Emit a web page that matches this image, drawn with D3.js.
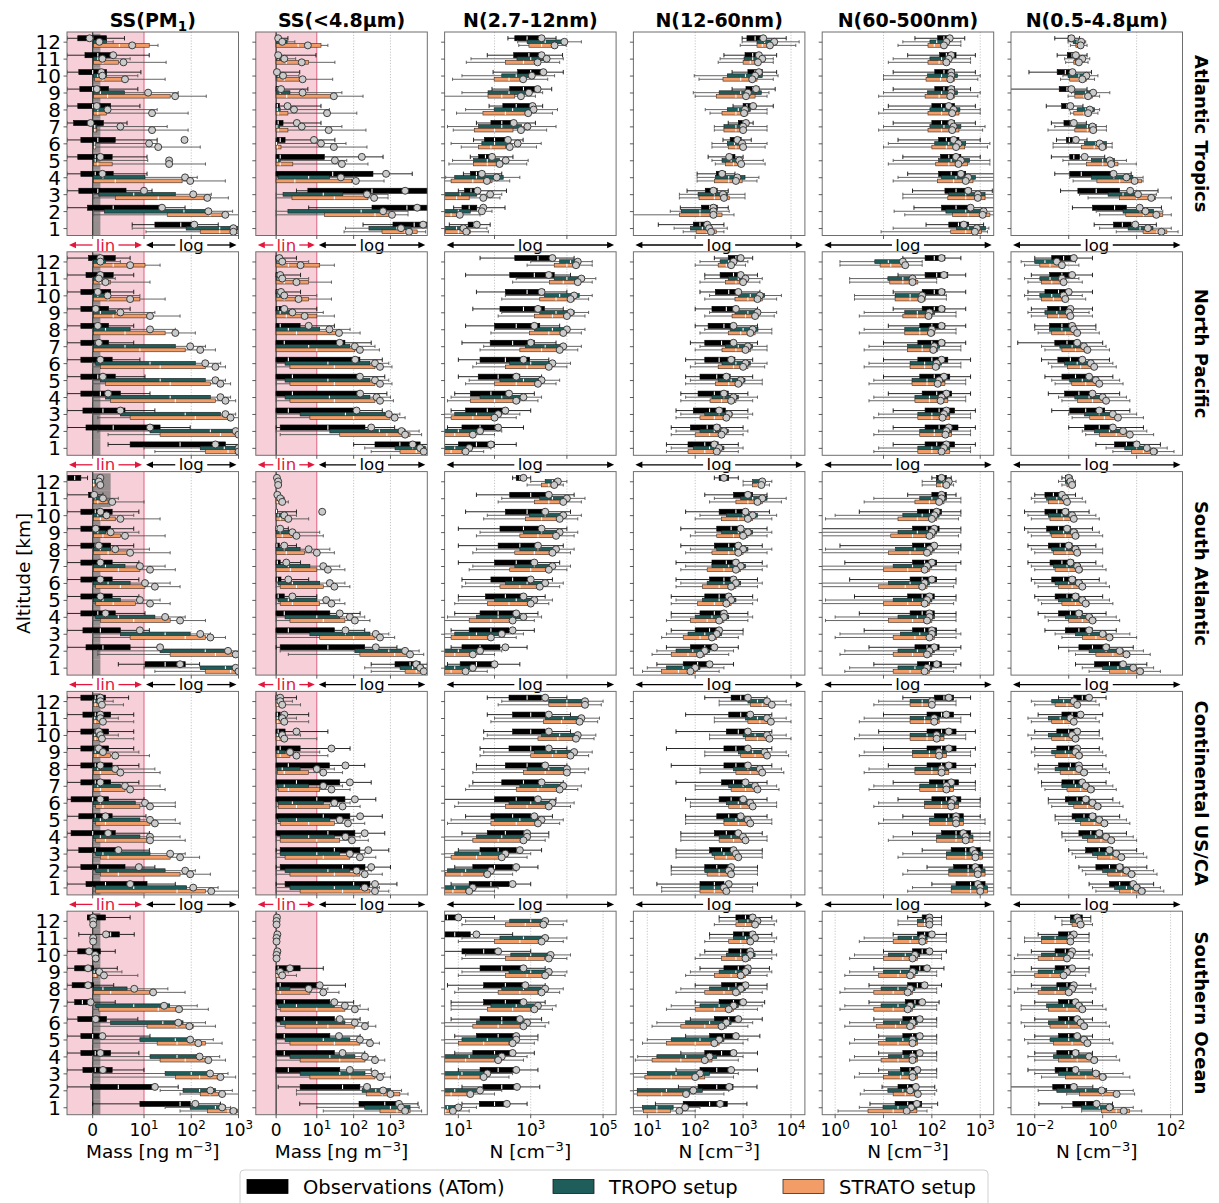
<!DOCTYPE html>
<html>
<head>
<meta charset="utf-8">
<script src="https://cdn.jsdelivr.net/npm/d3@7"></script>
<style>
  body { margin: 0; background: #fff; }
  svg { display: block; font-family: 'DejaVu Sans', sans-serif; }
</style>
</head>
<body>
<div id="chart"></div>
<script>
(function(d3) {
  'use strict';

  var regions = ['Atlantic Tropics', 'North Pacific', 'South Atlantic', 'Continental US/CA', 'Southern Ocean'];
  var altitudes = [1, 2, 3, 4, 5, 6, 7, 8, 9, 10, 11, 12];
  var seriesNames = ['Observations (ATom)', 'TROPO setup', 'STRATO setup'];

  // each altitude row: [low whisker, q1, median, q3, high whisker, mean], altitude 1..12
  // SS columns in ng m-3, N columns as log10(N / cm-3)

  // ---- Atlantic Tropics
  var atPm1Obs = [[7.7,17,60,122,373,116],[-5,-1,4,24,74,24],[-5,-2.7,1,6.5,14.8,10],[-5,-2.3,0.5,4,11.6,1.9],[-5,-2.9,0.5,3.8,11.6,1.5],[-5,-2.3,1,4.4,19,72],[-5,-3.7,-0.5,2.1,6.7,-0.4],[-5,-2.9,0,3.5,9.2,0.8],[-5,-2.5,0,3.1,8.8,0.8],[-5,-2.7,0,2.7,9.4,1.7],[-5,-1.5,1,4,12.9,4],[-5,-2.9,0,2.7,6.2,-0.6]];
  var atPm1Tropo = [[7.7,78,400,1000,1200,780],[0.2,2.3,70,230,750,230],[0.2,1.2,8,46,266,110],[0.2,0.2,2,10.5,134,74],[0.2,0.2,0.5,0.8,12,34],[0.2,0.2,0.4,0.6,19,12.8],[0.2,0.2,0.4,0.8,31,5.4],[0.2,0.2,1,3.1,19,2.9],[0.2,0.2,1.5,6.2,53,12.2],[0.2,0.2,1,2.7,8.8,1.9],[0.2,0.2,1,2.1,7.3,1.9],[0.2,0.2,1,2.7,4,1.3]];
  var atPm1Strato = [[11,155,400,1000,1200,780],[0.2,31,250,526,1200,526],[0.2,4.4,20,219,610,219],[0.2,0.2,4.4,64,526,95],[0.2,0.2,1,3.8,200,34],[0.2,0.2,0.4,0.6,155,20],[0.2,0.2,0.4,0.8,86,14.8],[0.2,0.2,1,2.7,86,14.8],[0.2,0.2,2.9,35.8,208,45.6],[0.2,0.4,2,6.2,28,6.3],[0.2,0.2,2,5,29.4,6],[0.2,0.2,5.2,12.9,19.8,7.7]];
  var atSs48Obs = [[180,1170,4400,12000,12000,7700],[8,315,2800,12000,12000,5300],[5,7.8,315,12000,12000,2500],[0,0,27,335,3900,760],[0,0,1,16,630,167],[0,0.2,1,2.2,31,9.3],[0,0,0.5,1.7,13,5.1],[0,0,0.3,0.8,13,2.8],[0,0,0.3,0.8,7.8,1.2],[0,0,0.1,0.3,5.8,0.2],[0,0,0.1,0.3,9.8,0.5],[0,0,0.2,0.5,2.9,0.5]];
  var atSs48Tropo = [[60,260,1500,3600,11000,1930],[0,2.9,160,590,3000,630],[0,1.7,15,51,860,230],[0,0.5,8,22,100,45],[0,0,0.3,1,65,31],[0,0,0.1,0.3,62,13],[0,0,0.2,0.8,48,6.3],[0,0,0.3,1,22,4.4],[0,0,1,3.4,48,6.5],[0,0,0.5,1.7,5.6,1.7],[0,0,0.5,1.7,4.8,2],[0,0,1,2.7,4.6,1.5]];
  var atSs48Strato = [[55,590,2500,5300,9000,3200],[0,16,380,1170,3000,1100],[0,3.9,30,245,860,360],[0,0,4.6,89,670,115],[0,0,1,4.1,245,48],[0,0,0.3,1.2,230,29],[0,0,0.5,2.9,216,21],[0,0,0.5,2.9,122,19],[0,0,2.6,31,180,29],[0,0.2,2,6,27,6.5],[0,0,2.5,8,31,6.3],[0,0,5.4,13,20,7.8]];
  var atN1Obs = [[0.75,1.27,1.42,1.56,1.88,1.51],[0.87,1.1,1.3,1.51,2.29,1.69],[1,1.17,1.35,1.56,2.33,1.53],[1.14,1.33,1.5,1.73,2.2,1.65],[1.33,1.56,1.75,2,2.51,1.93],[1.42,1.72,2,2.34,2.79,2.37],[1.5,1.9,2.2,2.56,3.13,2.53],[1.85,2.23,2.6,3.1,3.33,3.05],[1.93,2.42,2.8,3.16,3.58,3.19],[1.96,2.64,3,3.38,3.9,3.35],[1.8,2.53,2.95,3.3,3.88,3.3],[2.37,2.56,2.9,3.3,3.7,3.3]];
  var atN1Tropo = [[0.5,0.65,0.95,1.25,1.79,1.14],[0.5,0.6,1,1.33,1.93,1.65],[0.5,0.6,1.05,1.51,2.2,1.88],[0.65,0.9,1.5,2.24,2.7,2.06],[0.84,1.42,1.8,2.14,2.93,2.31],[0.8,1.65,2,2.45,3.29,2.64],[0.7,1.56,2.2,2.75,3.7,2.91],[1.2,1.99,2.5,3.02,3.74,3.08],[1.1,1.82,2.4,2.92,3.33,2.95],[1.1,2.2,2.6,3.05,3.66,3.03],[1.35,2.62,3,3.52,3.9,3.44],[2.64,2.9,3.4,3.93,4.4,3.93]];
  var atN1Strato = [[0.5,0.65,1,1.33,1.83,1.22],[0.5,0.6,0.8,1,1.6,1.04],[0.5,0.6,0.95,1.3,2.15,1.69],[0.5,0.8,1.4,1.93,2.42,1.79],[0.74,1.42,1.8,2.14,2.89,2.14],[1.08,1.56,1.9,2.3,3.16,2.42],[0.86,1.44,2,2.51,3.44,2.73],[0.95,1.68,2.3,2.9,3.6,2.93],[0.5,1.82,2.2,2.56,3.13,2.73],[0.84,1.99,2.4,2.84,3.47,2.79],[1.22,2.3,2.8,3.2,3.8,3.19],[2.67,2.95,3.3,3.74,3.98,3.66]];
  var atN2Obs = [[1.23,1.96,2.1,2.25,2.6,2.25],[1.69,2.13,2.3,2.46,2.69,2.38],[1.83,2.21,2.33,2.46,2.69,2.38],[2.04,2.44,2.52,2.63,2.83,2.56],[2.27,2.67,2.75,2.83,3,2.71],[2.58,2.73,2.85,2.96,3.17,2.88],[2.69,2.9,3,3.1,3.21,3.06],[2.79,3,3.08,3.17,3.63,3.21],[2.77,3.06,3.2,3.33,3.67,3.27],[2.77,3.1,3.25,3.4,3.7,3.33],[2.6,3.04,3.2,3.35,3.7,3.33],[2.98,3.08,3.25,3.42,3.9,3.42]];
  var atN2Tropo = [[1.56,1.9,2.15,2.35,2.67,2.29],[1.48,1.71,2.1,2.44,2.71,2.38],[1.67,2.06,2.4,2.67,3.04,2.58],[2.04,2.42,2.7,3.04,3.33,2.88],[2.35,2.56,2.75,2.94,3.42,2.92],[2.35,2.67,2.82,3,3.5,2.98],[2.4,2.6,2.85,3.04,3.5,3],[2.21,2.67,2.9,3.15,3.5,3.04],[1.96,2.5,2.95,3.38,3.54,3.1],[1.98,2.67,3.05,3.4,3.73,3.25],[2.52,3.02,3.2,3.4,3.63,3.4],[2.98,3.29,3.45,3.6,4.17,3.65]];
  var atN2Strato = [[1.75,2.02,2.25,2.44,2.6,2.33],[0.6,1.67,2.1,2.56,2.81,2.38],[1.67,2.08,2.4,2.71,3.04,2.6],[2.04,2.4,2.7,2.98,3.29,2.85],[2.42,2.63,2.8,3,3.46,2.96],[2.35,2.69,2.85,3.02,3.46,3],[2.4,2.6,2.85,3.04,3.5,3],[2.31,2.56,2.85,3.1,3.5,3.02],[2,2.44,2.85,3.25,3.5,3.06],[2.08,2.58,2.95,3.29,3.63,3.19],[2.48,3,3.15,3.33,3.63,3.31],[2.94,3.29,3.4,3.52,4.1,3.56]];
  var atN3Obs = [[1.88,2.35,2.55,2.76,3.07,2.66],[1.63,2.2,2.5,2.8,3.3,2.8],[1.6,2.27,2.5,2.82,3.25,2.75],[1.5,2.14,2.4,2.7,3.3,2.6],[1.4,2.18,2.35,2.6,3,2.5],[1.3,2.14,2.3,2.56,3,2.45],[1.2,2,2.2,2.47,2.9,2.4],[1.1,2,2.2,2.47,2.9,2.35],[1.2,2.06,2.25,2.47,2.8,2.4],[1.2,2.06,2.25,2.47,2.9,2.4],[1.5,2.16,2.3,2.5,2.9,2.4],[1.65,2.12,2.25,2.41,2.68,2.37]];
  var atN3Tropo = [[1.2,2.51,2.75,3.11,3.18,2.93],[1.22,2.29,2.7,3.13,3.3,3.07],[1.4,2.35,2.7,3.1,3.3,2.95],[1.3,2.2,2.5,2.9,3.3,2.75],[1.2,2.14,2.4,2.78,3.2,2.6],[1.1,2.06,2.35,2.7,3.2,2.55],[1,1.96,2.25,2.6,3.1,2.45],[1,1.96,2.25,2.58,3,2.45],[1,1.91,2.2,2.53,3,2.4],[1,1.91,2.2,2.53,3,2.4],[1.2,1.96,2.2,2.41,2.8,2.35],[1.4,1.96,2.1,2.33,2.6,2.3]];
  var atN3Strato = [[0.95,2.39,2.7,3.03,3.15,2.89],[1.44,2.43,2.75,3.2,3.28,3.05],[1.4,2.33,2.7,3.1,3.3,2.95],[1.2,2.12,2.45,2.85,3.3,2.7],[1.1,2.08,2.35,2.74,3.2,2.55],[1,2,2.3,2.68,3.15,2.5],[0.9,1.92,2.2,2.56,3.05,2.42],[0.9,1.92,2.2,2.56,3,2.42],[0.9,1.86,2.15,2.47,2.95,2.38],[1,1.88,2.18,2.47,2.95,2.38],[1.1,1.92,2.15,2.37,2.8,2.3],[1.3,1.92,2.05,2.27,2.6,2.25]];
  var atN4Obs = [[-0.25,0.32,0.58,0.84,1.58,0.96],[-0.89,-0.3,0.35,0.7,1.73,1.09],[-1.24,-0.73,-0.19,0.5,1.63,0.81],[-1.41,-0.97,-0.63,0.35,0.84,0.32],[-1.51,-0.97,-0.85,-0.68,0.06,-0.53],[-1.36,-1.07,-0.98,-0.89,-0.46,-0.79],[-1.51,-1.14,-0.95,-0.82,-0.48,-0.85],[-1.66,-1.21,-1.05,-0.89,-0.58,-0.95],[-2.9,-1.28,-1.05,-0.89,-0.46,-0.92],[-2.17,-1.34,-1.1,-0.92,-0.33,-0.89],[-1.34,-1.04,-0.9,-0.75,-0.46,-0.79],[-1.41,-1.02,-0.95,-0.85,-0.68,-0.92]];
  var atN4Tropo = [[-0.09,0.75,1.1,1.48,2.02,1.33],[-0.19,0.6,1.1,1.5,1.77,1.26],[-0.68,0.16,0.6,0.99,1.58,1.04],[-0.97,-0.33,0.33,0.89,1.19,0.7],[-1.17,-0.33,0,0.35,0.7,0.21],[-1.46,-0.53,-0.2,0.11,0.28,-0.09],[-1.41,-0.79,-0.45,-0.19,0.11,-0.3],[-0.97,-0.75,-0.5,-0.24,-0.09,-0.38],[-0.92,-0.82,-0.5,-0.24,0.21,-0.28],[-1.17,-1.02,-0.7,-0.43,-0.14,-0.48],[-1.12,-0.82,-0.7,-0.56,-0.38,-0.6],[-1.02,-0.87,-0.75,-0.63,-0.5,-0.63]];
  var atN4Strato = [[0.4,1.19,1.6,1.89,2.22,1.73],[-0.09,0.68,1.2,1.77,2.02,1.58],[-0.43,0.5,1,1.56,2.02,1.43],[-0.87,-0.17,0.5,1.14,1.19,0.94],[-1,-0.48,0,0.45,0.99,0.25],[-1.46,-0.63,-0.25,0.11,0.28,-0.01],[-1.61,-0.82,-0.45,-0.19,0.11,-0.28],[-0.95,-0.85,-0.55,-0.33,-0.14,-0.43],[-1.02,-0.82,-0.55,-0.3,-0.09,-0.43],[-1.24,-0.97,-0.7,-0.48,-0.24,-0.6],[-1.09,-0.85,-0.75,-0.63,-0.43,-0.7],[-0.95,-0.79,-0.72,-0.63,-0.46,-0.65]];

  // ---- North Pacific
  var npPm1Obs = [[3,7.3,58,530,1000,325],[-5,-1.3,4,21.9,95,13.4],[-5,-1.9,2,6.3,17,5.4],[-5,-2.3,1.5,5.4,13.4,3],[-5,-2.3,1,4.4,10.5,2],[-5,-2.3,1,3.8,9.2,1.5],[-5,-2.3,0.5,3.1,8,1.2],[-5,-2.3,0.5,3.1,8,1],[-5,-2.3,0.5,3.1,7.3,0.6],[-5,-2.3,0.5,3.5,8,1],[-5,-1.3,1,4,8,1.5],[-5,-0.8,1,4.4,7.3,1.5]];
  var npPm1Tropo = [[10,155,500,1000,1200,1000],[1,13.4,254,870,1200,870],[0,5.4,74.5,415,870,530],[0,2.5,35.8,254,680,415],[0,1.5,22,198,530,325],[0,0.6,13.4,122,420,198],[0,0.2,6.3,46,200,95],[0,0.2,2.5,7.3,46,13.4],[0,0.2,1.5,4.4,17,5.4],[0,0.2,1,3.1,9.2,2.9],[0,0.2,0.6,1.5,4.4,1.2],[0,0.2,1,2.5,5.4,1.5]];
  var npPm1Strato = [[17,198,600,1000,1200,1000],[3,21.9,415,1000,1200,1000],[1,7.3,122,600,1000,680],[0,3.5,46,325,870,530],[0,2.5,35.8,254,680,415],[0,1.5,22,198,530,325],[0,0.2,9.2,74.5,325,155],[0,0.2,6.3,28,122,46],[0,0.2,4,13.4,58,13.4],[0,0.2,3,9.2,28,7.3],[0,0.2,1.5,3.5,13.4,2.5],[0,0.2,4,10.5,21.9,7.3]];
  var npSs48Obs = [[100,380,1800,6400,12000,4000],[0,1,20,203,1300,300],[0,0,3,108,600,120],[0,0,4,148,800,150],[0,0,4,148,700,148],[0,0,3,148,600,110],[0,0,2,58,300,42],[0,0,1,5.9,30,8],[0,0,0.5,1.5,10,2],[0,0,0.3,1,6,1.2],[0,0,0.3,1,6,1],[0,0,0.2,0.5,5,0.8]];
  var npSs48Tropo = [[200,1330,4000,8800,12000,6400],[0,22.6,500,2500,6000,2000],[0,5.9,60,710,1800,900],[0,2.2,22,277,1000,420],[0,2.2,20,277,900,380],[0,2.2,20,277,900,380],[0,0,8,79,380,108],[0,0,3,12,80,22],[0,0,1,3.4,15,4],[0,0,0.5,2.2,10,2],[0,0,0.5,2,8,1.5],[0,0,0.5,2.2,8,1.5]];
  var npSs48Strato = [[300,1820,5000,10000,12000,8000],[1,42,800,3400,7000,2500],[0,8.3,100,970,2500,1300],[0,3.4,30,380,1200,520],[0,3.4,30,380,1100,520],[0,3.4,30,380,1100,520],[0,0,10,108,500,148],[0,0,5,42,150,40],[0,0,2.5,10,30,7],[0,0,2,8,25,5.5],[0,0,2,8,25,5],[0,0,3,12,30,6]];
  var npN1Obs = [[0.6,1,1.5,2,2.6,1.9],[0.7,1.1,1.6,2.15,2.8,2.1],[0.8,1.2,1.8,2.3,3,2.3],[0.9,1.33,1.9,2.42,3.1,2.4],[1,1.55,2.1,2.7,3.3,2.6],[1,1.6,2.3,2.97,3.5,2.8],[1.1,1.88,2.5,3.1,3.7,3],[1.2,2,2.6,3.25,3.8,3.1],[1.4,2.15,2.8,3.38,3.9,3.2],[1.5,2.3,2.9,3.38,4,3.3],[1.2,2.42,3.1,3.65,4.1,3.5],[1.6,2.56,3.2,3.65,4.2,3.6]];
  var npN1Tropo = [[0.5,0.6,0.9,1.33,1.9,1.3],[0.5,0.6,1,1.6,2.2,1.6],[0.5,0.9,1.5,2.15,2.7,2.1],[0.8,1.6,2.2,2.85,3.3,2.8],[1.3,2.15,2.8,3.38,3.8,3.3],[1.5,2.42,3,3.65,4.1,3.6],[1.7,2.85,3.4,3.93,4.4,3.9],[2,3.1,3.6,4.07,4.5,4],[2.2,3.25,3.7,4.2,4.6,4.1],[2.3,3.38,3.8,4.34,4.7,4.2],[2.6,3.65,4,4.48,4.8,4.4],[3,3.8,4.1,4.34,4.7,4.3]];
  var npN1Strato = [[0.5,0.6,0.8,1.1,1.7,1.2],[0.5,0.6,0.9,1.33,2,1.4],[0.5,0.8,1.4,2,2.6,2],[0.7,1.33,2,2.7,3.2,2.6],[1.2,2,2.6,3.25,3.7,3.2],[1.4,2.3,2.9,3.52,4,3.5],[1.6,2.7,3.3,3.8,4.3,3.8],[1.9,2.97,3.5,3.93,4.4,3.9],[2.1,3.1,3.6,4.07,4.5,4],[2.2,3.25,3.7,4.2,4.6,4.1],[2.5,3.52,3.9,4.34,4.7,4.3],[2.9,3.65,4,4.34,4.7,4.25]];
  var npN2Obs = [[1.4,1.85,2.2,2.48,2.9,2.4],[1.5,1.9,2.25,2.52,3,2.45],[1.6,1.96,2.3,2.63,3.1,2.5],[1.7,2.06,2.4,2.69,3.1,2.6],[1.8,2.1,2.45,2.73,3.2,2.65],[1.8,2.2,2.5,2.83,3.2,2.75],[1.9,2.2,2.55,2.83,3.3,2.8],[2,2.27,2.6,2.83,3.3,2.8],[2,2.35,2.65,2.9,3.3,2.85],[2.1,2.42,2.7,2.94,3.35,2.9],[2.2,2.52,2.8,2.98,3.3,2.95],[2.4,2.69,2.85,2.98,3.2,2.95]];
  var npN2Tropo = [[1.5,1.96,2.3,2.6,3,2.5],[1.6,2.1,2.4,2.69,3.1,2.6],[1.7,2.2,2.5,2.77,3.2,2.7],[1.8,2.35,2.6,2.9,3.3,2.8],[1.9,2.48,2.75,3.04,3.4,2.95],[2,2.56,2.85,3.15,3.5,3.05],[2.1,2.63,2.9,3.2,3.5,3.1],[2.2,2.73,3,3.31,3.6,3.2],[2.3,2.83,3.1,3.35,3.7,3.3],[2.3,2.9,3.15,3.45,3.8,3.35],[2.2,2.69,2.9,3.1,3.4,3.05],[2.1,2.52,2.7,2.83,3.1,2.8]];
  var npN2Strato = [[1.4,1.85,2.2,2.52,2.9,2.45],[1.5,2,2.3,2.6,3,2.55],[1.6,2.1,2.4,2.69,3.1,2.65],[1.7,2.31,2.55,2.85,3.2,2.75],[1.8,2.42,2.7,2.98,3.4,2.9],[1.9,2.48,2.8,3.1,3.45,3],[2,2.56,2.85,3.15,3.5,3.05],[2.1,2.69,2.95,3.25,3.6,3.15],[2.2,2.77,3.05,3.31,3.65,3.25],[2.2,2.83,3.1,3.4,3.7,3.3],[2.1,2.63,2.85,3.04,3.35,3],[2,2.48,2.65,2.77,3.05,2.75]];
  var npN3Obs = [[1.2,1.86,2.1,2.47,2.9,2.3],[1.2,1.86,2.15,2.54,2.9,2.35],[1.2,1.86,2.15,2.47,2.9,2.3],[1.1,1.8,2.1,2.41,2.8,2.3],[1,1.75,2.05,2.37,2.8,2.25],[1,1.71,2,2.33,2.8,2.2],[1,1.71,2,2.27,2.7,2.2],[1.1,1.75,2,2.27,2.7,2.2],[1.2,1.8,2.05,2.27,2.7,2.2],[1.2,1.8,2.05,2.27,2.7,2.2],[1.3,1.86,2.1,2.33,2.7,2.25],[1.4,1.86,2.05,2.27,2.6,2.2]];
  var npN3Tropo = [[0.9,1.71,2,2.37,2.8,2.25],[0.9,1.75,2.05,2.41,2.8,2.3],[0.9,1.71,2,2.37,2.8,2.25],[0.8,1.65,1.95,2.33,2.7,2.2],[0.8,1.59,1.9,2.27,2.7,2.15],[0.7,1.55,1.85,2.2,2.6,2.1],[0.7,1.5,1.8,2.16,2.6,2.05],[0.6,1.44,1.75,2.06,2.5,2],[0.6,1.44,1.7,2.06,2.5,1.95],[0.4,1.24,1.55,1.86,2.3,1.8],[0.3,1.09,1.4,1.65,2.1,1.6],[0.1,0.82,1.1,1.38,1.8,1.4]];
  var npN3Strato = [[0.8,1.71,2,2.37,2.8,2.2],[0.8,1.75,2.05,2.41,2.8,2.28],[0.8,1.71,2,2.37,2.8,2.22],[0.7,1.65,1.95,2.33,2.7,2.18],[0.7,1.59,1.9,2.27,2.7,2.12],[0.6,1.55,1.85,2.16,2.6,2.08],[0.6,1.5,1.8,2.12,2.6,2.03],[0.5,1.44,1.75,2.06,2.5,1.98],[0.5,1.4,1.7,2,2.5,1.93],[0.4,1.24,1.55,1.86,2.3,1.78],[0.3,1.13,1.4,1.71,2.1,1.6],[0.1,0.93,1.15,1.44,1.8,1.45]];
  var npN4Obs = [[-0.2,0.35,0.7,1.09,1.7,1],[-1,-0.53,-0.1,0.35,1.2,0.3],[-1.5,-0.97,-0.5,0.06,0.8,-0.1],[-1.6,-1.12,-0.7,-0.24,0.5,-0.3],[-1.7,-1.2,-0.8,-0.38,0.3,-0.4],[-1.8,-1.32,-0.95,-0.53,0.2,-0.6],[-2.5,-1.41,-1.05,-0.68,0,-0.75],[-2,-1.56,-1.2,-0.82,-0.2,-0.9],[-2.1,-1.62,-1.25,-0.91,-0.3,-0.95],[-2.2,-1.7,-1.3,-0.97,-0.3,-1],[-2.1,-1.56,-1.2,-0.91,-0.3,-0.9],[-2,-1.5,-1.15,-0.82,-0.3,-0.85]];
  var npN4Tropo = [[0.1,0.65,1,1.38,1.9,1.3],[-0.6,-0.24,0.2,0.65,1.3,0.6],[-1,-0.53,-0.1,0.35,1,0.3],[-1.3,-0.82,-0.4,0.06,0.7,0],[-1.5,-0.97,-0.6,-0.15,0.5,-0.2],[-1.6,-1.12,-0.75,-0.32,0.3,-0.35],[-1.8,-1.26,-0.9,-0.53,0.1,-0.55],[-2,-1.56,-1.2,-0.82,-0.2,-0.85],[-2.2,-1.7,-1.35,-1.03,-0.4,-1],[-2.3,-1.85,-1.5,-1.2,-0.6,-1.15],[-2.3,-1.85,-1.55,-1.26,-0.7,-1.2],[-2.4,-2,-1.7,-1.32,-0.8,-1.35]];
  var npN4Strato = [[0.3,0.85,1.2,1.62,2.1,1.5],[-0.5,-0.09,0.4,0.85,1.5,0.8],[-0.9,-0.38,0.05,0.5,1.2,0.45],[-1.2,-0.74,-0.3,0.15,0.8,0.1],[-1.4,-0.91,-0.5,-0.09,0.6,-0.1],[-1.5,-1.03,-0.65,-0.24,0.4,-0.25],[-1.7,-1.2,-0.8,-0.44,0.2,-0.45],[-1.9,-1.5,-1.1,-0.74,-0.1,-0.75],[-2.1,-1.62,-1.3,-0.97,-0.3,-0.95],[-2.2,-1.8,-1.45,-1.12,-0.5,-1.1],[-2.2,-1.8,-1.5,-1.2,-0.6,-1.15],[-2.3,-1.85,-1.55,-1.26,-0.7,-1.2]];

  // ---- South Atlantic
  var saPm1Obs = [[5,10.5,28,74.5,150,58],[-5,-1.3,2,7.3,21.9,21.9],[-5,-1.9,1.5,5.4,13,9.2],[-5,-2.3,1,4.4,10.5,2.5],[-5,-2.3,1,3.8,9,1.5],[-5,-2.3,1,3.8,9,1.5],[-5,-2.3,1,3.8,9,1.5],[-5,-2.3,0.5,3.5,8,1.2],[-5,-2.3,0.5,3.5,8,0.6],[-5,-2.3,0.5,3.8,9,1.5],[-5,-0.8,0,0.2,2,0.3],[-5,-5,-3.5,-2.3,-1,1.5]];
  var saPm1Tropo = [[10,155,530,1000,1200,870],[1,21.9,198,530,1000,600],[0,5.4,28,95,254,155],[0,0.6,5,17,74.5,28],[0,0.2,2,5.4,21.9,9.2],[0,0.2,3,7.3,35.8,10.5],[0,0.2,2.5,6.3,28,9.2],[0,0.2,1.5,3.5,13,4.4],[0,0.2,1,2.5,9,3.5],[0,0.2,1,2.5,8,2.7],[0,0.2,0.5,2,5,2],[0,0,0.2,0.5,2,1.2]];
  var saPm1Strato = [[17,198,680,1000,1200,1000],[1,35.8,325,870,1200,870],[0,7.3,74.5,198,530,254],[0,1.5,8,35.8,200,58],[0,0.6,4,8.3,35.8,13.4],[0,0.6,5.4,10.5,58,17],[0,0.2,5,9.2,46,13.4],[0,0.2,3,7.3,35.8,7.3],[0,0.2,2,5.4,28,6.3],[0,0.2,1.5,4.4,21.9,5.4],[0,0.2,1,3,10,3.8],[0,0,0.2,0.5,2,1.5]];
  var saSs48Obs = [[300,1330,3400,6400,10000,5000],[0,1,20,200,1500,400],[0,0,3,30,200,60],[0,0,2,22.6,150,42],[0,0,0.5,2,10,4],[0,0,0.3,1.2,8,3],[0,0,0.3,1,6,2.5],[0,0,0.2,0.8,5,2],[0,0,0.1,0.5,3,1],[0,0,0.1,0.3,5,14],[0,0,0,0.2,1,0.3],[0,0,0,0.2,0.5,0.2]];
  var saSs48Tropo = [[200,1820,4000,8000,12000,6400],[1,108,900,2500,6000,2500],[0,8.3,60,277,900,400],[0,2.2,10,42,200,79],[0,0.5,3,10,42,18],[0,0.5,4,12,58,22.6],[0,0,3,8.3,42,15],[0,0,2,5.9,22.6,8],[0,0,1,3.4,12,4],[0,0,0.5,1.5,5,2],[0,0,0.2,0.5,2,1],[0,0,0.1,0.3,1,0.5]];
  var saSs48Strato = [[300,2500,5000,9000,12000,8000],[3,148,1300,3400,8000,3400],[0,12,100,380,1300,520],[0,3.4,15,58,277,108],[0,1,4,12,58,25],[0,1,5,15,79,30],[0,0,3.5,10,58,20],[0,0,2.5,7,30,10],[0,0,1.5,4,15,5],[0,0,1,2.2,8,3],[0,0,0.3,1,3,1.5],[0,0,0.1,0.3,1,0.5]];
  var saN1Obs = [[0.7,1.05,1.5,2,2.7,2],[0.8,1.1,1.6,2.15,2.9,2.3],[0.8,1.3,1.9,2.4,3.1,2.5],[0.9,1.6,2.1,2.56,3.2,2.6],[1,1.75,2.3,2.8,3.4,2.8],[1.1,1.9,2.5,2.97,3.6,3],[1,2,2.6,3.1,3.8,3.1],[1,2.1,2.7,3.2,3.9,3.2],[1,2.15,2.8,3.25,4,3.3],[1.2,2.3,2.9,3.38,4.1,3.4],[1.5,2.42,3,3.52,4.2,3.5],[2.5,2.6,2.7,2.8,3,2.8]];
  var saN1Tropo = [[0.5,0.6,0.9,1.33,2,1.4],[0.5,0.6,1,1.5,2.2,1.6],[0.5,0.9,1.5,2.15,2.8,2.2],[0.7,1.5,2.1,2.7,3.3,2.8],[1,2,2.6,3.1,3.6,3.1],[1.2,2.3,2.9,3.38,3.9,3.4],[1.4,2.56,3.1,3.52,4.1,3.6],[1.5,2.7,3.2,3.65,4.2,3.7],[1.6,2.8,3.3,3.75,4.3,3.8],[1.8,2.97,3.4,3.85,4.4,3.9],[2.2,3.25,3.6,4,4.5,4],[3,3.4,3.6,3.8,4,3.75]];
  var saN1Strato = [[0.5,0.6,0.8,1.15,1.8,1.2],[0.5,0.6,0.9,1.33,2,1.4],[0.5,0.8,1.3,1.9,2.6,1.9],[0.6,1.3,1.9,2.5,3.1,2.5],[0.9,1.8,2.4,2.97,3.5,3],[1.1,2.15,2.7,3.2,3.8,3.25],[1.3,2.42,3,3.45,4,3.5],[1.4,2.56,3.1,3.56,4.1,3.6],[1.5,2.7,3.2,3.65,4.2,3.7],[1.7,2.85,3.3,3.75,4.3,3.8],[2.1,3.1,3.5,3.9,4.4,3.9],[2.9,3.3,3.5,3.7,3.9,3.65]];
  var saN2Obs = [[1.2,1.75,2.05,2.35,2.8,2.3],[1.4,1.9,2.2,2.45,2.9,2.4],[1.5,2,2.3,2.55,3,2.5],[1.5,2.1,2.4,2.65,3.1,2.6],[1.5,2.2,2.5,2.75,3.2,2.7],[1.6,2.3,2.6,2.85,3.3,2.8],[1.6,2.35,2.65,2.9,3.4,2.85],[1.7,2.4,2.7,2.95,3.4,2.9],[1.7,2.45,2.75,3,3.5,2.95],[1.8,2.5,2.85,3.1,3.55,3.05],[2.2,2.8,3.05,3.2,3.5,3.1],[2.4,2.5,2.6,2.7,2.9,2.6]];
  var saN2Tropo = [[1,1.4,1.75,2.1,2.6,2],[1.2,1.6,1.95,2.3,2.8,2.2],[1.4,1.85,2.2,2.55,3,2.45],[1.5,2,2.35,2.7,3.2,2.6],[1.6,2.15,2.5,2.85,3.3,2.75],[1.7,2.25,2.6,2.95,3.4,2.85],[1.8,2.35,2.7,3.05,3.5,2.95],[1.9,2.45,2.8,3.1,3.6,3],[2,2.55,2.9,3.2,3.6,3.1],[2.1,2.65,3,3.3,3.7,3.2],[2.4,2.95,3.2,3.5,3.9,3.4],[3,3.2,3.35,3.45,3.6,3.4]];
  var saN2Strato = [[0.9,1.3,1.65,2,2.5,1.9],[1.1,1.5,1.85,2.2,2.7,2.1],[1.3,1.75,2.1,2.45,2.9,2.35],[1.4,1.9,2.25,2.6,3.1,2.5],[1.5,2.05,2.4,2.75,3.2,2.65],[1.6,2.15,2.5,2.85,3.3,2.75],[1.7,2.25,2.6,2.95,3.4,2.85],[1.8,2.35,2.7,3,3.5,2.9],[1.9,2.45,2.8,3.1,3.5,3],[2,2.55,2.9,3.2,3.6,3.1],[2.3,2.85,3.1,3.4,3.8,3.3],[3,3.2,3.3,3.4,3.55,3.38]];
  var saN3Obs = [[0.8,1.7,1.95,2.2,2.6,2.1],[0.7,1.65,1.9,2.15,2.6,2.05],[0.6,1.6,1.85,2.1,2.5,2],[0.5,1.55,1.8,2.05,2.5,1.95],[0.4,1.5,1.8,2.05,2.5,1.95],[0.3,1.55,1.8,2.1,2.5,2],[0.2,1.6,1.85,2.1,2.6,2],[0.1,1.6,1.85,2.1,2.6,2.05],[-0.5,1.6,1.9,2.15,2.6,2.05],[0.5,1.7,1.95,2.2,2.6,2.1],[1.5,2,2.15,2.3,2.5,2.2],[2,2.1,2.2,2.3,2.4,2.2]];
  var saN3Tropo = [[0.3,1.3,1.65,2,2.5,1.9],[0.2,1.3,1.7,2.05,2.5,1.95],[0.1,1.35,1.75,2.1,2.6,2],[0,1.3,1.7,2.05,2.5,1.95],[-0.2,1.2,1.6,2,2.5,1.9],[-0.3,1.1,1.55,1.95,2.5,1.85],[-0.3,1.2,1.6,2,2.5,1.9],[-0.2,1.25,1.65,2.05,2.6,1.95],[-0.5,1.3,1.7,2.1,2.6,2],[0,1.4,1.8,2.15,2.6,2.05],[0.8,1.75,2,2.3,2.6,2.2],[1.8,2.1,2.25,2.35,2.5,2.35]];
  var saN3Strato = [[0.2,1.2,1.55,1.95,2.45,1.85],[0.1,1.2,1.6,2,2.45,1.9],[0,1.2,1.65,2.05,2.5,1.95],[-0.2,1.1,1.6,2,2.5,1.9],[-0.3,1,1.5,1.95,2.45,1.85],[-0.4,0.9,1.45,1.9,2.45,1.8],[-0.4,1,1.5,1.95,2.5,1.85],[-0.3,1.1,1.55,2,2.55,1.9],[-0.5,1.15,1.6,2.05,2.55,1.95],[-0.2,1.3,1.7,2.1,2.55,2],[0.6,1.65,1.95,2.25,2.6,2.15],[1.8,2.1,2.2,2.3,2.45,2.3]];
  var saN4Obs = [[-0.8,-0.24,0.2,0.65,1.3,0.6],[-1.3,-0.7,-0.3,0.2,0.9,0.1],[-1.7,-1.1,-0.7,-0.3,0.4,-0.4],[-1.9,-1.3,-0.95,-0.6,0.1,-0.7],[-2,-1.4,-1.05,-0.7,0,-0.8],[-2.1,-1.5,-1.15,-0.8,-0.1,-0.9],[-2.2,-1.55,-1.2,-0.85,-0.2,-0.95],[-2.2,-1.6,-1.25,-0.9,-0.2,-1],[-2.3,-1.65,-1.3,-0.95,-0.3,-1.05],[-2.3,-1.7,-1.35,-1,-0.4,-1.1],[-2,-1.7,-1.45,-1.2,-0.8,-1.2],[-1.2,-1.1,-1.05,-1,-0.9,-1]];
  var saN4Tropo = [[-0.6,0,0.45,0.95,1.5,0.9],[-1,-0.4,0.1,0.6,1.2,0.5],[-1.4,-0.8,-0.4,0.1,0.8,0],[-1.7,-1.1,-0.7,-0.3,0.4,-0.4],[-1.9,-1.3,-0.9,-0.5,0.2,-0.6],[-2,-1.4,-1,-0.6,0.1,-0.7],[-2.1,-1.45,-1.05,-0.65,0,-0.75],[-2.1,-1.5,-1.1,-0.7,0,-0.8],[-2.2,-1.55,-1.15,-0.75,-0.1,-0.85],[-2.2,-1.6,-1.2,-0.85,-0.2,-0.9],[-2.1,-1.65,-1.35,-1.05,-0.6,-1.1],[-1.3,-1.1,-1,-0.95,-0.8,-0.95]];
  var saN4Strato = [[-0.4,0.2,0.7,1.2,1.7,1.1],[-0.8,-0.2,0.3,0.8,1.4,0.7],[-1.2,-0.6,-0.2,0.3,1,0.2],[-1.6,-1,-0.6,-0.2,0.5,-0.3],[-1.8,-1.2,-0.8,-0.4,0.3,-0.5],[-1.9,-1.3,-0.9,-0.5,0.2,-0.6],[-2,-1.4,-1,-0.6,0.1,-0.7],[-2,-1.45,-1.05,-0.65,0,-0.75],[-2.1,-1.5,-1.1,-0.7,0,-0.8],[-2.1,-1.55,-1.15,-0.8,-0.1,-0.85],[-2,-1.6,-1.3,-1,-0.5,-1.05],[-1.2,-1.05,-0.95,-0.9,-0.8,-0.9]];

  // ---- Continental US/CA
  var usPm1Obs = [[-5,-1.3,2.5,11.6,46,7.3],[-5,-2.3,1,6.3,17,9],[-5,-2.7,0.5,5,13,5],[-5,-4.2,0,4.4,13,3],[-5,-2.7,0.5,3.8,11,2.5],[-5,-4.2,0,3.1,10,1.5],[-5,-2.3,0.5,3.5,9,1.5],[-5,-2.3,0.5,3.8,9,1.5],[-5,-2.3,0.5,3.1,8,1.2],[-5,-2.3,0.5,3.1,8,1.2],[-5,-1.9,0.5,3.5,8,1.5],[-5,-2.3,0.5,2.5,7,1.5]];
  var usPm1Tropo = [[0,0.6,8,80,370,110],[0,0.6,3,28,122,74.5],[0,0.6,2,13.4,74.5,35.8],[0,0.2,1.5,9.2,58,13.4],[0,0.2,1.5,9.2,46,13.4],[0,0.2,1.5,8.3,46,10.5],[0,0.2,1,5.4,21.9,6.3],[0,0.2,1,4.4,17,4.4],[0,0.2,0.5,1.5,9,2],[0,0.2,0.4,1,5,1.5],[0,0.2,0.4,1,5,1.5],[0,0.2,0.4,1,4,1.5]];
  var usPm1Strato = [[0,0.6,50,198,1000,265],[0,1.5,5,58,254,95],[0,1.5,3,35.8,150,58],[0,0.6,2.5,13.4,74.5,13.4],[0,0.6,2.5,13.4,58,17],[0,0.6,2,9.2,46,13.4],[0,0.2,1.5,6.3,28,7.3],[0,0.2,1.5,5,21.9,5.4],[0,0.2,1,3.5,13,4.4],[0,0.2,0.5,1.5,8,1.8],[0,0.2,0.5,1.5,8,2],[0,0.2,0.5,1.5,6,1.8]];
  var usSs48Obs = [[0,2.2,100,277,1500,380],[0,1,50,203,1000,300],[0,1,30,148,900,250],[0,0,20,108,700,200],[0,0,15,79,600,150],[0,0,10,58,400,108],[0,0,5,42,300,79],[0,0,3,22,200,60],[0,0,1,5.9,80,25],[0,0,0.5,2.2,20,5],[0,0,0.3,1,8,2],[0,0,0.2,0.5,5,1]];
  var usSs48Tropo = [[0,3.4,30,148,500,200],[0,2.2,20,79,300,120],[0,1,10,42,200,79],[0,1,8,30,150,60],[0,0.5,5,22.6,100,42],[0,0.5,4,15,80,30],[0,0.3,2,8,50,15],[0,0.3,1.5,5.9,30,10],[0,0,0.5,2.2,12,3.4],[0,0,0.3,1,6,1.5],[0,0,0.3,1,5,1.5],[0,0,0.2,0.8,4,1]];
  var usSs48Strato = [[0,5.9,50,277,900,380],[0,3.4,30,148,600,200],[0,2.2,15,79,400,148],[0,1,10,42,250,90],[0,1,8,30,200,70],[0,0.5,5,22.6,150,50],[0,0.5,3,12,80,25],[0,0.3,2,8,50,15],[0,0,1,3.4,20,5],[0,0,0.5,1.5,10,2],[0,0,0.4,1.2,8,2],[0,0,0.3,1,6,1.5]];
  var usN1Obs = [[0.8,1.3,1.9,2.4,3,2.5],[0.9,1.4,2,2.5,3.2,2.6],[1,1.6,2.1,2.6,3.3,2.7],[1.1,1.8,2.3,2.8,3.5,2.9],[1.2,1.9,2.5,3,3.6,3.1],[0.6,2,2.6,3.1,3.7,3.2],[1.4,2.2,2.8,3.25,3.9,3.3],[1.5,2.3,2.9,3.35,4,3.4],[1.6,2.4,3,3.4,4,3.5],[1.7,2.5,3,3.4,4.1,3.5],[1.8,2.5,3,3.4,4.1,3.5],[1.8,2.4,2.9,3.3,4,3.4]];
  var usN1Tropo = [[0.5,0.6,0.9,1.3,2.1,1.4],[0.5,0.7,1.2,1.8,2.6,1.9],[0.5,0.9,1.6,2.3,3,2.3],[0.6,1.5,2.2,2.9,3.5,2.9],[0.8,2,2.7,3.3,3.9,3.3],[1,2.4,3,3.6,4.2,3.6],[1.3,2.7,3.3,3.8,4.4,3.9],[1.5,2.9,3.5,4,4.6,4],[1.7,3.1,3.7,4.2,4.7,4.2],[1.8,3.3,3.8,4.3,4.8,4.3],[2,3.4,3.9,4.4,4.9,4.4],[2.2,3.5,4,4.5,5,4.5]];
  var usN1Strato = [[0.5,0.6,0.85,1.2,2,1.3],[0.5,0.65,1.1,1.7,2.5,1.8],[0.5,0.8,1.5,2.2,2.9,2.2],[0.5,1.4,2.1,2.8,3.4,2.8],[0.7,1.9,2.6,3.2,3.8,3.2],[0.9,2.3,2.9,3.5,4.1,3.5],[1.2,2.6,3.2,3.75,4.3,3.8],[1.4,2.8,3.4,3.95,4.5,4],[1.6,3,3.6,4.1,4.6,4.1],[1.7,3.2,3.75,4.25,4.75,4.25],[1.9,3.35,3.85,4.35,4.85,4.35],[2.1,3.5,4,4.5,4.95,4.5]];
  var usN2Obs = [[1.2,2.1,2.4,2.6,3.3,2.7],[1.5,2.2,2.45,2.7,3.3,2.75],[1.6,2.3,2.55,2.8,3.4,2.8],[1.7,2.4,2.65,2.9,3.4,2.9],[1.8,2.45,2.7,2.95,3.5,2.95],[1.8,2.5,2.75,3,3.5,3],[1.6,2.55,2.8,3.05,3.5,3.05],[1.5,2.6,2.85,3.1,3.6,3.1],[1.4,2.6,2.85,3.1,3.6,3.1],[1.6,2.65,2.9,3.1,3.6,3.1],[1.8,2.7,2.95,3.15,3.6,3.15],[2.2,2.75,2.95,3.1,3.5,3.1]];
  var usN2Tropo = [[1.3,2.1,2.4,2.7,3.2,2.6],[1.5,2.2,2.5,2.8,3.3,2.7],[1.6,2.35,2.6,2.9,3.4,2.85],[1.7,2.5,2.75,3.05,3.5,3],[1.8,2.6,2.85,3.15,3.6,3.1],[1.9,2.65,2.9,3.2,3.7,3.15],[2,2.7,3,3.3,3.7,3.25],[2.1,2.8,3.1,3.4,3.8,3.35],[2.2,2.9,3.2,3.5,3.9,3.45],[2.3,3,3.25,3.55,3.9,3.5],[2.4,3.05,3.3,3.55,3.9,3.5],[2.5,3.1,3.3,3.5,3.9,3.5]];
  var usN2Strato = [[1.3,2.1,2.4,2.7,3.2,2.65],[1.5,2.25,2.5,2.8,3.3,2.75],[1.6,2.4,2.65,2.95,3.4,2.9],[1.7,2.5,2.8,3.1,3.5,3.05],[1.8,2.6,2.9,3.2,3.6,3.15],[1.9,2.7,2.95,3.25,3.7,3.2],[2,2.75,3.05,3.35,3.75,3.3],[2.1,2.85,3.15,3.45,3.85,3.4],[2.2,2.95,3.25,3.55,3.95,3.5],[2.3,3.05,3.3,3.6,4,3.55],[2.4,3.1,3.35,3.6,4,3.58],[2.5,3.15,3.4,3.6,4,3.6]];
  var usN3Obs = [[2,2.5,2.8,3.1,3.3,2.95],[1.9,2.45,2.75,3.05,3.3,2.9],[1.8,2.4,2.7,3,3.3,2.85],[1.6,2.2,2.5,2.8,3.2,2.65],[1.4,2.05,2.35,2.65,3,2.5],[1.3,2,2.3,2.6,3,2.45],[1.2,1.95,2.25,2.55,2.9,2.4],[1.1,1.9,2.2,2.5,2.9,2.35],[1,1.9,2.2,2.5,2.9,2.35],[0.9,1.9,2.2,2.5,2.9,2.35],[1,1.9,2.2,2.45,2.8,2.3],[1.4,2.05,2.25,2.45,2.8,2.35]];
  var usN3Tropo = [[1.6,2.4,2.8,3.15,3.4,3],[1.5,2.35,2.75,3.1,3.4,2.95],[1.4,2.3,2.7,3.05,3.35,2.9],[1.2,2.1,2.5,2.85,3.2,2.7],[1,1.95,2.3,2.65,3.1,2.5],[0.9,1.85,2.2,2.55,3,2.4],[0.8,1.75,2.1,2.45,2.9,2.3],[0.7,1.65,2,2.35,2.8,2.2],[0.6,1.6,1.95,2.3,2.8,2.15],[0.5,1.55,1.9,2.25,2.7,2.1],[0.6,1.55,1.85,2.15,2.6,2.05],[0.9,1.55,1.8,2.05,2.5,2]];
  var usN3Strato = [[1.5,2.4,2.8,3.15,3.4,3],[1.4,2.35,2.75,3.1,3.4,2.95],[1.3,2.3,2.7,3.05,3.35,2.9],[1.1,2.1,2.5,2.85,3.2,2.7],[0.9,1.95,2.3,2.65,3.1,2.5],[0.8,1.85,2.2,2.55,3,2.4],[0.7,1.75,2.1,2.45,2.9,2.3],[0.6,1.65,2,2.35,2.8,2.2],[0.5,1.6,1.95,2.3,2.8,2.15],[0.4,1.55,1.9,2.25,2.7,2.1],[0.5,1.55,1.85,2.15,2.6,2.05],[0.8,1.55,1.8,2.05,2.5,2]];
  var usN4Obs = [[-0.4,0.2,0.5,0.95,1.5,0.9],[-0.7,-0.2,0.2,0.6,1.3,0.5],[-1,-0.5,-0.1,0.3,1,0.2],[-1.2,-0.7,-0.35,0,0.7,-0.1],[-1.4,-0.9,-0.55,-0.2,0.5,-0.3],[-1.6,-1.1,-0.75,-0.4,0.3,-0.5],[-1.8,-1.2,-0.85,-0.55,0.1,-0.6],[-1.9,-1.3,-0.95,-0.65,0,-0.7],[-2,-1.35,-1,-0.7,-0.1,-0.75],[-2,-1.35,-1,-0.7,-0.1,-0.75],[-1.9,-1.2,-0.9,-0.6,0,-0.65],[-1.3,-0.85,-0.6,-0.4,0.1,-0.4]];
  var usN4Tropo = [[-0.3,0.35,0.7,1.1,1.7,1],[-0.6,0,0.4,0.8,1.5,0.7],[-0.9,-0.3,0.1,0.5,1.2,0.4],[-1.2,-0.6,-0.2,0.2,0.9,0.1],[-1.4,-0.8,-0.4,0,0.7,-0.1],[-1.6,-1,-0.6,-0.2,0.5,-0.3],[-1.8,-1.2,-0.8,-0.4,0.3,-0.5],[-2,-1.4,-1,-0.6,0.1,-0.7],[-2.1,-1.5,-1.1,-0.75,0,-0.8],[-2.2,-1.6,-1.2,-0.85,-0.1,-0.9],[-2.2,-1.6,-1.25,-0.9,-0.2,-0.95],[-2.1,-1.5,-1.15,-0.8,-0.2,-0.85]];
  var usN4Strato = [[-0.2,0.5,0.85,1.25,1.8,1.15],[-0.5,0.15,0.55,0.95,1.6,0.85],[-0.8,-0.15,0.25,0.65,1.3,0.55],[-1.1,-0.45,-0.05,0.35,1,0.25],[-1.3,-0.65,-0.25,0.15,0.8,0.05],[-1.5,-0.85,-0.45,-0.05,0.6,-0.15],[-1.7,-1.05,-0.65,-0.25,0.4,-0.35],[-1.9,-1.25,-0.85,-0.45,0.2,-0.55],[-2,-1.4,-1,-0.6,0.1,-0.7],[-2.1,-1.5,-1.1,-0.7,0,-0.8],[-2.1,-1.5,-1.15,-0.8,-0.1,-0.85],[-2,-1.4,-1.05,-0.7,-0.1,-0.75]];

  // ---- Southern Ocean
  var soPm1Obs = [[0,9.2,58,95,415,122],[-5,-0.4,5,17,53,17],[-5,-1.9,0.5,3.8,10,2],[-5,-2.3,0.5,3.5,9,1.5],[-5,-2.3,0,1.5,13.4,1.9],[-5,-2.9,0,2.7,8.8,0.6],[-5,-3.5,-2,-0.7,4.4,-0.4],[-5,-4,-1,0.2,4.1,-0.9],[-5,-3.5,-1,0.2,4.8,-0.9],[-5,-2.9,-0.5,1.5,4.4,-0.7],[-2.7,2.5,3.5,5.2,8.1,2.6],[-1,-1,0.1,2.5,7.3,0.1]];
  var soPm1Tropo = [[28,95,325,530,680,450],[22,67,150,325,740,254],[0,28,100,254,600,250],[0,13.4,50,155,400,150],[0,9.2,46,95,293,95],[0,3.5,25,67,200,53],[0,0.6,8,35,134,26.6],[0,0.2,2,6.7,32,8.1],[0,0,0.3,0.6,5.7,1.3],[0,0,0.2,0.4,1,0.5],[0,0,0,0.1,0.3,0.1],[0,0,0,0.1,0.2,0.1]];
  var soPm1Strato = [[58,219,600,950,1200,780],[58,155,250,373,1100,450],[0,46,150,415,870,415],[0,21.9,74.5,254,530,230],[0,19,50,198,450,141],[0,11.6,50,110,325,91],[0,1.2,20,64,230,55],[0,0.2,3.5,13,74,15.6],[0,0,0.5,1,8.8,2.2],[0,0,0.2,0.4,1,0.6],[0,0,0,0.1,0.3,0.1],[0,0,0,0.1,0.3,0.1]];
  var soSs48Obs = [[5.8,140,700,1800,5600,1700],[0.5,5.9,50,148,280,230],[0,0,3,42,300,79],[0,0,2,30,200,50],[0,0,2,22.6,150,40],[0,0,2,30,150,42],[0,0,2,22.6,100,30],[0,0,1,12,60,12],[0,0,0.5,5.9,15,3.4],[0,0,0.1,0.3,1,0.3],[0,0,0.1,0.3,0.8,0.3],[0,0,0.1,0.2,0.5,0.2]];
  var soSs48Tropo = [[10,200,1000,3400,6000,1940],[5,170,400,1000,2000,630],[0,5.9,42,203,700,380],[0,3.4,22.6,108,400,203],[0,2.2,15,79,300,148],[0,1,10,58,250,108],[0,0.5,5,30,150,58],[0,0,0.5,3.4,20,8],[0,0,0.1,0.5,3,1],[0,0,0,0.1,0.3,0.1],[0,0,0,0.1,0.2,0.1],[0,0,0,0.1,0.2,0.1]];
  var soSs48Strato = [[15,520,1500,3400,7000,2500],[5,220,600,1800,3000,1000],[0,8.3,79,380,1000,520],[0,5.9,42,203,700,380],[0,3.4,30,148,500,277],[0,2.2,20,108,400,203],[0,1,10,58,250,108],[0,0,1,8.3,40,15],[0,0,0.2,1,5,1.5],[0,0,0,0.1,0.3,0.1],[0,0,0,0.1,0.2,0.1],[0,0,0,0.1,0.2,0.1]];
  var soN1Obs = [[1.1,1.58,2,2.34,2.9,2.34],[1.1,1.68,2.2,2.62,3.25,2.62],[1,1.6,2.1,2.6,3.2,2.6],[0.9,1.4,2,2.5,3.1,2.5],[0.9,1.5,2.1,2.6,3.2,2.6],[0.8,1.6,2.2,2.7,3.3,2.7],[0.8,1.7,2.3,2.8,3.4,2.8],[0.7,1.7,2.3,2.8,3.4,2.85],[0.6,1.6,2.2,2.75,3.4,2.8],[0.6,1.1,1.7,2.15,3,2.1],[0.5,0.6,0.9,1.33,2.5,1.5],[0.5,0.6,0.7,1.05,2,1]];
  var soN1Tropo = [[0.5,0.6,0.7,0.9,1.5,1],[0.5,0.6,0.9,1.5,2.2,1.6],[0.5,0.6,1.1,1.7,2.5,1.8],[0.5,0.6,1.3,2.15,2.9,2.2],[0.5,1.1,1.8,2.5,3.2,2.6],[0.6,1.5,2.2,2.85,3.5,2.9],[0.8,1.9,2.6,3.1,3.7,3.2],[1,2.2,2.8,3.3,3.9,3.4],[1.1,2.4,3,3.45,4,3.5],[1.2,2.45,3,3.5,4.1,3.55],[1.1,2.15,2.8,3.38,4,3.4],[1.2,2.42,3,3.38,4,3.4]];
  var soN1Strato = [[0.5,0.6,0.65,0.8,1.3,0.85],[0.5,0.6,0.8,1.33,2,1.33],[0.5,0.6,1,1.6,2.4,1.7],[0.5,0.6,1.2,2,2.8,2.1],[0.5,1,1.7,2.4,3.1,2.5],[0.6,1.4,2.1,2.75,3.4,2.8],[0.8,1.8,2.5,3,3.6,3.1],[0.9,2.1,2.7,3.2,3.8,3.3],[1,2.3,2.9,3.35,3.95,3.4],[1.1,2.3,2.9,3.38,4,3.5],[1,2,2.7,3.25,3.9,3.3],[1.1,2.3,2.85,3.3,3.9,3.35]];
  var soN2Obs = [[1.17,1.75,2.3,2.67,3.08,2.52],[1.65,2.06,2.45,2.79,3.29,2.71],[1.6,2.1,2.45,2.8,3.3,2.75],[1.7,2.2,2.55,2.85,3.3,2.8],[1.8,2.3,2.6,2.9,3.35,2.85],[1.9,2.4,2.7,2.95,3.4,2.9],[2,2.5,2.8,3.05,3.45,3],[2,2.55,2.85,3.1,3.5,3.05],[2.1,2.6,2.9,3.15,3.55,3.1],[2.2,2.7,2.95,3.2,3.6,3.15],[2.3,2.8,3,3.25,3.6,3.2],[2.5,2.85,3.05,3.25,3.6,3.2]];
  var soN2Tropo = [[0.6,0.9,1.2,1.54,2.1,1.79],[0.6,0.79,1.4,2.15,2.7,1.96],[0.7,1,1.6,2.3,2.9,2.1],[0.8,1.2,1.8,2.45,3,2.3],[1,1.5,2.1,2.6,3.1,2.5],[1.2,1.8,2.3,2.75,3.2,2.65],[1.5,2.1,2.5,2.9,3.4,2.8],[1.7,2.3,2.7,3.05,3.5,2.95],[1.9,2.5,2.85,3.15,3.6,3.05],[2.1,2.65,2.95,3.25,3.7,3.15],[2.3,2.8,3.05,3.3,3.7,3.25],[2.5,2.9,3.1,3.35,3.7,3.3]];
  var soN2Strato = [[0.6,0.92,1.2,1.48,2,1.67],[0.6,0.79,1.3,1.79,2.6,1.81],[0.7,0.95,1.5,2.2,2.8,2],[0.75,1.1,1.7,2.35,2.9,2.2],[0.9,1.4,2,2.5,3,2.4],[1.1,1.7,2.2,2.65,3.1,2.55],[1.4,2,2.4,2.8,3.3,2.7],[1.6,2.2,2.6,2.95,3.4,2.85],[1.8,2.4,2.75,3.05,3.5,2.95],[2,2.55,2.85,3.15,3.6,3.05],[2.2,2.7,2.95,3.2,3.65,3.15],[2.4,2.85,3.05,3.3,3.65,3.25]];
  var soN3Obs = [[0.72,1.24,1.5,1.79,2.12,1.69],[0.97,1.3,1.5,1.65,2.06,1.67],[0.9,1.35,1.55,1.75,2.1,1.7],[0.9,1.4,1.6,1.8,2.1,1.75],[0.9,1.4,1.6,1.8,2.1,1.75],[0.8,1.4,1.6,1.8,2.1,1.75],[0.7,1.45,1.65,1.85,2.15,1.8],[0.7,1.5,1.7,1.9,2.2,1.85],[0.8,1.55,1.75,1.95,2.25,1.9],[1,1.6,1.8,2,2.3,1.95],[1.2,1.7,1.85,2.05,2.3,2],[1.5,1.8,1.9,2,2.2,1.95]];
  var soN3Tropo = [[0.5,0.99,1.3,1.69,2,1.57],[0.6,1.09,1.4,1.69,2.1,1.55],[0.5,1.1,1.4,1.7,2.1,1.6],[0.4,1.1,1.4,1.7,2.1,1.6],[0.4,1.05,1.4,1.7,2.1,1.6],[0.3,1,1.35,1.7,2.1,1.6],[0.2,0.95,1.3,1.65,2.1,1.55],[0.2,0.95,1.3,1.65,2.1,1.55],[0.3,1,1.35,1.7,2.1,1.6],[0.4,1.1,1.45,1.75,2.2,1.65],[0.6,1.3,1.6,1.9,2.3,1.8],[1.3,1.7,1.85,2,2.2,1.95]];
  var soN3Strato = [[0.06,0.68,1.2,1.69,1.9,1.48],[0.52,1.2,1.45,1.69,2.06,1.71],[0.4,1,1.35,1.7,2.1,1.6],[0.3,0.95,1.3,1.7,2.1,1.6],[0.3,0.9,1.3,1.7,2.1,1.6],[0.2,0.85,1.25,1.65,2.1,1.55],[0.1,0.8,1.2,1.6,2.1,1.5],[0.1,0.8,1.2,1.6,2.1,1.5],[0.2,0.9,1.3,1.65,2.1,1.55],[0.3,1,1.4,1.7,2.2,1.6],[0.5,1.2,1.55,1.9,2.3,1.8],[1.3,1.7,1.85,2,2.2,1.95]];
  var soN4Obs = [[-1.88,-0.88,-0.5,-0.18,0.29,-0.18],[-2.74,-1.47,-1.1,-0.76,-0.29,-0.85],[-2.2,-1.4,-1.05,-0.75,-0.3,-0.8],[-2,-1.35,-1,-0.7,-0.3,-0.8],[-2,-1.3,-1,-0.7,-0.3,-0.75],[-2,-1.3,-1,-0.7,-0.3,-0.75],[-2,-1.3,-1,-0.75,-0.3,-0.8],[-2.1,-1.35,-1.05,-0.8,-0.35,-0.85],[-2.1,-1.4,-1.1,-0.85,-0.4,-0.9],[-2.1,-1.4,-1.1,-0.85,-0.4,-0.9],[-1.9,-1.3,-1,-0.8,-0.4,-0.85],[-1.4,-0.95,-0.8,-0.6,-0.35,-0.75]];
  var soN4Tropo = [[-1.2,-0.62,-0.1,0.32,0.9,0.2],[-1.9,-1.35,-0.5,0.12,0.9,-0.03],[-2,-1.3,-0.7,-0.1,0.6,-0.2],[-2.2,-1.45,-0.9,-0.3,0.4,-0.4],[-2.3,-1.55,-1,-0.45,0.2,-0.55],[-2.4,-1.6,-1.1,-0.55,0.1,-0.65],[-2.4,-1.65,-1.15,-0.6,0,-0.7],[-2.5,-1.8,-1.3,-0.8,-0.2,-0.9],[-2.6,-1.9,-1.45,-1,-0.4,-1.05],[-2.5,-1.8,-1.35,-0.9,-0.3,-0.95],[-2.3,-1.8,-1.4,-0.9,-0.4,-0.95],[-1.2,-0.95,-0.8,-0.6,-0.35,-0.7]];
  var soN4Strato = [[-0.62,-0.03,0.4,0.79,1.15,0.62],[-1.06,-0.68,0,0.44,0.94,0.41],[-1.8,-1.1,-0.5,0.1,0.8,0],[-2,-1.3,-0.75,-0.15,0.5,-0.25],[-2.2,-1.45,-0.9,-0.35,0.3,-0.45],[-2.3,-1.55,-1,-0.45,0.2,-0.55],[-2.4,-1.6,-1.05,-0.5,0.1,-0.6],[-2.6,-1.9,-1.4,-0.9,-0.3,-1],[-2.7,-2,-1.55,-1.1,-0.5,-1.15],[-2.6,-1.9,-1.45,-1,-0.4,-1.05],[-2.3,-1.8,-1.4,-0.9,-0.4,-0.95],[-1.2,-0.9,-0.75,-0.55,-0.3,-0.65]];

  // PM1 detection limit band (ng m-3), altitude 1..12
  var atLod = [1.5,1.5,1.5,1.5,1.5,1.5,1.5,1.5,1.5,1.5,1.5,1.5];
  var npLod = [1.5,1.5,1.5,1.5,1.5,1.5,1.5,1.5,1.5,1.5,1.5,1.5];
  var saLod = [1.5,1.5,1.5,1.5,1.5,1.5,1.5,1.5,1.5,1.5,3.5,3.5];
  var usLod = [1.5,1.5,1.5,1.5,1.5,1.5,1.5,1.5,1.5,1.5,1.5,1.5];
  var soLod = [1.5,1.5,1.5,1.5,1.5,1.5,1.5,1.5,1.5,1.5,1.5,1.5];

  var panels = [
    [[atPm1Obs, atPm1Tropo, atPm1Strato], [atSs48Obs, atSs48Tropo, atSs48Strato], [atN1Obs, atN1Tropo, atN1Strato], [atN2Obs, atN2Tropo, atN2Strato], [atN3Obs, atN3Tropo, atN3Strato], [atN4Obs, atN4Tropo, atN4Strato]],
    [[npPm1Obs, npPm1Tropo, npPm1Strato], [npSs48Obs, npSs48Tropo, npSs48Strato], [npN1Obs, npN1Tropo, npN1Strato], [npN2Obs, npN2Tropo, npN2Strato], [npN3Obs, npN3Tropo, npN3Strato], [npN4Obs, npN4Tropo, npN4Strato]],
    [[saPm1Obs, saPm1Tropo, saPm1Strato], [saSs48Obs, saSs48Tropo, saSs48Strato], [saN1Obs, saN1Tropo, saN1Strato], [saN2Obs, saN2Tropo, saN2Strato], [saN3Obs, saN3Tropo, saN3Strato], [saN4Obs, saN4Tropo, saN4Strato]],
    [[usPm1Obs, usPm1Tropo, usPm1Strato], [usSs48Obs, usSs48Tropo, usSs48Strato], [usN1Obs, usN1Tropo, usN1Strato], [usN2Obs, usN2Tropo, usN2Strato], [usN3Obs, usN3Tropo, usN3Strato], [usN4Obs, usN4Tropo, usN4Strato]],
    [[soPm1Obs, soPm1Tropo, soPm1Strato], [soSs48Obs, soSs48Tropo, soSs48Strato], [soN1Obs, soN1Tropo, soN1Strato], [soN2Obs, soN2Tropo, soN2Strato], [soN3Obs, soN3Tropo, soN3Strato], [soN4Obs, soN4Tropo, soN4Strato]]
  ];
  var lods = [atLod, npLod, saLod, usLod, soLod];

  // column axes
  var columns = [
    { title: ['SS(PM', '1', ')'], type: 'ss', linW: 77, max: 1000, unit: 'Mass [ng m',
      grid: [100], gridBottom: [100], ticks: [0, 10, 100, 1000],
      labels: [[0, null], [10, '1'], [100, '2'], [1000, '3']] },
    { title: ['SS(<4.8\u03bcm)'], type: 'ss', linW: 61, max: 10000, unit: 'Mass [ng m',
      grid: [100, 1000], gridBottom: [100, 1000], ticks: [0, 10, 100, 1000],
      labels: [[0, null], [10, '1'], [100, '2'], [1000, '3']] },
    { title: ['N(2.7-12nm)'], type: 'n', domain: [4.17, 229000], unit: 'N [cm',
      grid: [1e2, 1e4], gridBottom: [1e1, 1e3, 1e5], ticks: [1e2, 1e4],
      labels: [[1e1, '1'], [1e3, '3'], [1e5, '5']] },
    { title: ['N(12-60nm)'], type: 'n', domain: [5.13, 19500], unit: 'N [cm',
      grid: [1e2, 1e4], gridBottom: [1e1, 1e2, 1e3, 1e4], ticks: [1e2, 1e4],
      labels: [[1e1, '1'], [1e2, '2'], [1e3, '3'], [1e4, '4']] },
    { title: ['N(60-500nm)'], type: 'n', domain: [0.54, 1900], unit: 'N [cm',
      grid: [1e1, 1e3], gridBottom: [1, 1e1, 1e2, 1e3], ticks: [1e1, 1e3],
      labels: [[1, '0'], [1e1, '1'], [1e2, '2'], [1e3, '3']] },
    { title: ['N(0.5-4.8\u03bcm)'], type: 'n', domain: [0.002, 224], unit: 'N [cm',
      grid: [0.1, 10], gridBottom: [0.01, 1, 100], ticks: [0.1, 10],
      labels: [[0.01, '\u22122'], [1, '0'], [100, '2']] }
  ];

  var width = 1219, height = 1203;
  var panelW = 171.5, panelH = 203.5;
  var colLeft = [67, 255.8, 444.6, 633.4, 822.2, 1011];
  var rowTop = [32, 251.8, 471.6, 691.4, 911.2];
  var crimson = '#e3173e';

  var series = [
    { off: 0.23, h: 0.30, fill: '#000000', stroke: '#000000', whisk: '#111111' },
    { off: 0.02, h: 0.22, fill: '#1f5d5b', stroke: '#1a1a1a', whisk: '#555555' },
    { off: -0.19, h: 0.22, fill: '#f29d68', stroke: '#3a2a20', whisk: '#555555' }
  ];

  var svg = d3.select('#chart').append('svg')
    .attr('width', width)
    .attr('height', height);

  var y = d3.scaleLinear().domain([0.59, 12.6]).range([panelH, 0]);

  function makeX(col) {
    if (col.type === 'ss') {
      var lin = d3.scaleLinear().domain([-5, 10]).range([0, col.linW]);
      var lg = d3.scaleLog().domain([10, col.max]).range([col.linW, panelW]);
      var f = function(v) { return v < 10 ? lin(v) : lg(v); };
      return { pos: f, dat: f };
    }
    var s = d3.scaleLog().domain(col.domain).range([0, panelW]);
    return { pos: s, dat: function(v) { return s(Math.pow(10, v)); } };
  }

  function arrowHead(g, x, yy, dir, color) {
    g.append('path')
      .attr('d', 'M' + x + ',' + yy + 'L' + (x - dir * 7) + ',' + (yy - 3.2) + 'L' + (x - dir * 7) + ',' + (yy + 3.2) + 'Z')
      .attr('fill', color);
  }

  function arrowLabel(g, x1, x2, yy, text, color) {
    var mid = (x1 + x2) / 2;
    var half = text === 'lin' ? 13 : 16;
    g.append('line').attr('x1', x1 + 5).attr('x2', mid - half).attr('y1', yy).attr('y2', yy)
      .attr('stroke', color).attr('stroke-width', 1.3);
    g.append('line').attr('x1', mid + half).attr('x2', x2 - 5).attr('y1', yy).attr('y2', yy)
      .attr('stroke', color).attr('stroke-width', 1.3);
    arrowHead(g, x1, yy, -1, color);
    arrowHead(g, x2, yy, 1, color);
    g.append('text').attr('x', mid).attr('y', yy + 5.5)
      .attr('text-anchor', 'middle').attr('font-size', 16.5).attr('fill', color)
      .text(text);
  }

  function powLabel(sel, exp, size) {
    if (exp === null) { sel.text('0'); return; }
    sel.append('tspan').text('10');
    sel.append('tspan').attr('dy', -7).attr('font-size', size * 0.7).text(exp);
  }

  // column titles
  columns.forEach(function(col, c) {
    var t = svg.append('text')
      .attr('x', colLeft[c] + panelW / 2).attr('y', 27)
      .attr('text-anchor', 'middle').attr('font-size', 19).attr('font-weight', 'bold');
    t.append('tspan').text(col.title[0]);
    if (col.title.length > 1) {
      t.append('tspan').attr('dy', 4).attr('font-size', 13.5).text(col.title[1]);
      t.append('tspan').attr('dy', -4).text(col.title[2]);
    }
  });

  // region labels
  regions.forEach(function(name, r) {
    svg.append('text')
      .attr('transform', 'translate(1195,' + (rowTop[r] + panelH / 2) + ') rotate(90)')
      .attr('text-anchor', 'middle').attr('font-size', 18).attr('font-weight', 'bold')
      .text(name);
  });

  svg.append('text')
    .attr('transform', 'translate(30,' + (rowTop[0] + (rowTop[4] + panelH - rowTop[0]) / 2) + ') rotate(-90)')
    .attr('text-anchor', 'middle').attr('font-size', 18.5)
    .text('Altitude [km]');

  var defs = svg.append('defs');
  defs.append('clipPath').attr('id', 'pclip')
    .append('rect').attr('width', panelW).attr('height', panelH);

  panels.forEach(function(rowPanels, r) {
    rowPanels.forEach(function(triple, c) {
      var col = columns[c];
      var x = makeX(col);
      var bottom = r === panels.length - 1;
      var g = svg.append('g').attr('transform', 'translate(' + colLeft[c] + ',' + rowTop[r] + ')');
      var plot = g.append('g').attr('clip-path', 'url(#pclip)');

      if (col.type === 'ss') {
        plot.append('rect').attr('x', 0).attr('y', 0)
          .attr('width', x.pos(10)).attr('height', panelH)
          .attr('fill', '#f7cfd8');
      }

      // grid lines
      (bottom ? col.gridBottom : col.grid).forEach(function(v) {
        plot.append('line').attr('x1', x.pos(v)).attr('x2', x.pos(v))
          .attr('y1', 0).attr('y2', panelH)
          .attr('stroke', '#b8b8b8').attr('stroke-width', 0.8).attr('stroke-dasharray', '1.2,1.6');
      });

      if (col.type === 'ss') {
        if (c === 0) {
          lods[r].forEach(function(v, i) {
            var a = altitudes[i];
            plot.append('rect')
              .attr('x', x.pos(0)).attr('width', x.pos(v) - x.pos(0))
              .attr('y', y(a + 0.5)).attr('height', y(a - 0.5) - y(a + 0.5))
              .attr('fill', '#8a8586').attr('opacity', 0.9);
          });
        }
        plot.append('line').attr('x1', x.pos(0)).attr('x2', x.pos(0))
          .attr('y1', 0).attr('y2', panelH).attr('stroke', '#3a3a3a').attr('stroke-width', 1.3);
        plot.append('line').attr('x1', x.pos(10)).attr('x2', x.pos(10))
          .attr('y1', 0).attr('y2', panelH).attr('stroke', '#e0607c').attr('stroke-width', 1);
      }

      // boxes
      var means = [];
      triple.forEach(function(rows, si) {
        var s = series[si];
        rows.forEach(function(d, i) {
          var a = altitudes[i];
          var yc = y(a + s.off);
          var hh = y(a) - y(a + s.h);
          var xl = x.dat(d[0]), x1 = x.dat(d[1]), xm = x.dat(d[2]), x3 = x.dat(d[3]), xh = x.dat(d[4]);
          var cap = si === 0 ? 2.2 : 1.6;
          plot.append('line').attr('x1', xl).attr('x2', x1).attr('y1', yc).attr('y2', yc)
            .attr('stroke', s.whisk).attr('stroke-width', 0.9);
          plot.append('line').attr('x1', x3).attr('x2', xh).attr('y1', yc).attr('y2', yc)
            .attr('stroke', s.whisk).attr('stroke-width', 0.9);
          [xl, xh].forEach(function(xx) {
            plot.append('line').attr('x1', xx).attr('x2', xx).attr('y1', yc - cap).attr('y2', yc + cap)
              .attr('stroke', s.whisk).attr('stroke-width', 0.9);
          });
          plot.append('rect')
            .attr('x', x1).attr('width', Math.max(x3 - x1, 0.8))
            .attr('y', yc - hh / 2).attr('height', hh)
            .attr('fill', s.fill).attr('stroke', s.stroke).attr('stroke-width', 0.6);
          plot.append('line').attr('x1', xm).attr('x2', xm)
            .attr('y1', yc - hh / 2 + 0.4).attr('y2', yc + hh / 2 - 0.4)
            .attr('stroke', '#ffffff').attr('stroke-width', 1.1);
          means.push([x.dat(d[5]), yc]);
        });
      });
      means.forEach(function(m) {
        plot.append('circle').attr('cx', m[0]).attr('cy', m[1]).attr('r', 3.5)
          .attr('fill', '#cbcbcb').attr('stroke', '#2d2d2d').attr('stroke-width', 0.9);
      });

      // frame
      g.append('rect').attr('width', panelW).attr('height', panelH)
        .attr('fill', 'none').attr('stroke', '#6e6e6e').attr('stroke-width', 1);

      // y ticks
      altitudes.forEach(function(a) {
        g.append('line').attr('x1', -3.5).attr('x2', 0).attr('y1', y(a)).attr('y2', y(a))
          .attr('stroke', '#333').attr('stroke-width', 0.8);
        if (c === 0) {
          g.append('text').attr('x', -6).attr('y', y(a) + 7)
            .attr('text-anchor', 'end').attr('font-size', 20).text(a);
        }
      });

      // x ticks
      var tickVals = bottom ? col.labels.map(function(l) { return l[0]; }) : col.ticks;
      tickVals.forEach(function(v) {
        g.append('line').attr('x1', x.pos(v)).attr('x2', x.pos(v))
          .attr('y1', panelH).attr('y2', panelH + 3.5)
          .attr('stroke', '#333').attr('stroke-width', 0.8);
      });

      if (bottom) {
        col.labels.forEach(function(l) {
          var t = g.append('text').attr('x', x.pos(l[0])).attr('y', panelH + 21)
            .attr('text-anchor', 'middle').attr('font-size', 17);
          powLabel(t, l[1], 17);
        });
        var u = g.append('text').attr('x', panelW / 2).attr('y', panelH + 43)
          .attr('text-anchor', 'middle').attr('font-size', 18.5);
        u.append('tspan').text(col.unit);
        u.append('tspan').attr('dy', -7).attr('font-size', 13).text('\u22123');
        u.append('tspan').attr('dy', 7).text(']');
      } else {
        var ay = panelH + 9.5;
        if (col.type === 'ss') {
          arrowLabel(g, 2, x.pos(10) - 2, ay, 'lin', crimson);
          arrowLabel(g, x.pos(10) + 2, panelW - 2, ay, 'log', '#000');
        } else {
          arrowLabel(g, 2, panelW - 2, ay, 'log', '#000');
        }
      }
    });
  });

  // legend
  var legend = svg.append('g');
  legend.append('rect').attr('x', 240).attr('y', 1170).attr('width', 748).attr('height', 45)
    .attr('rx', 4).attr('fill', '#fff').attr('stroke', '#d0d0d0').attr('stroke-width', 1);
  var legendX = [247, 553, 783];
  seriesNames.forEach(function(name, i) {
    legend.append('rect').attr('x', legendX[i]).attr('y', 1179.5).attr('width', 41).attr('height', 14)
      .attr('fill', series[i].fill).attr('stroke', series[i].stroke).attr('stroke-width', 0.8);
    legend.append('text').attr('x', legendX[i] + 56).attr('y', 1194)
      .attr('font-size', 19.5).text(name);
  });

})(window.d3);
</script>
</body>
</html>
